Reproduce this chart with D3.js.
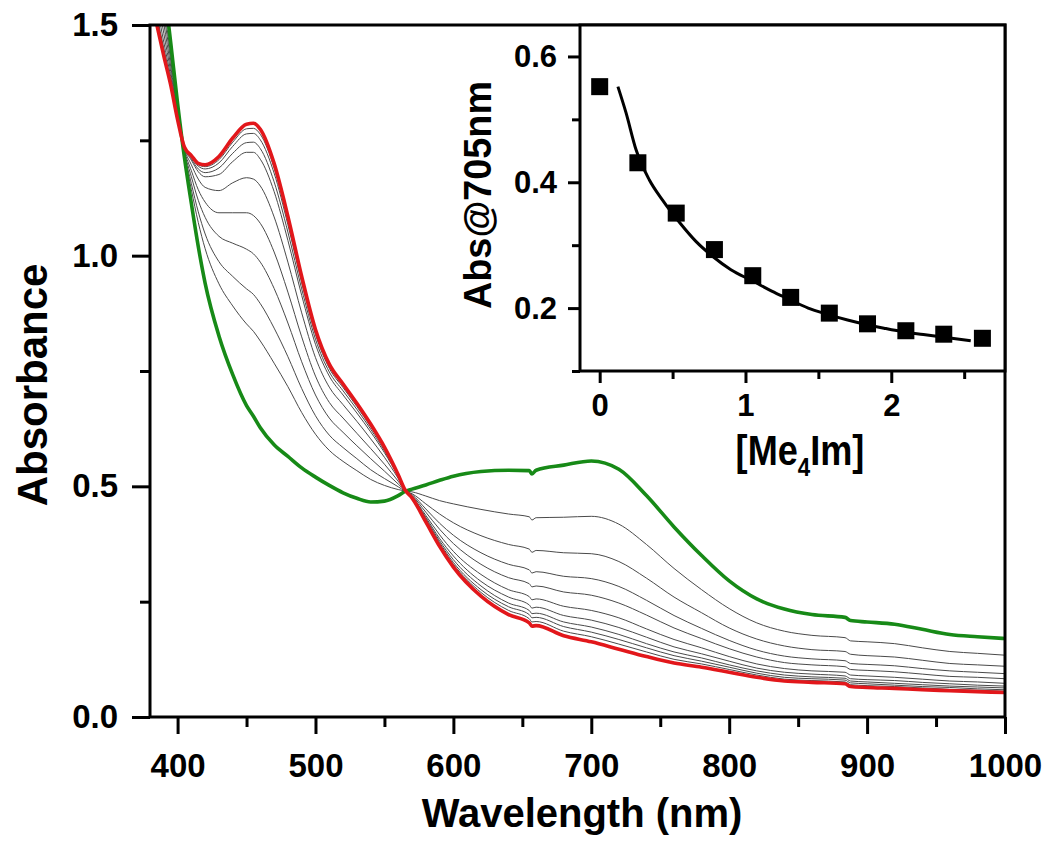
<!DOCTYPE html>
<html><head><meta charset="utf-8">
<script src="https://cdn.jsdelivr.net/npm/d3@7"></script>
<style>
body{margin:0;background:#fff}
svg{display:block}
text{font-family:Arial,"Liberation Sans",sans-serif;font-weight:bold;fill:#000}
</style>
</head><body>
<svg id="chart" width="1050" height="847"></svg>
<script>
// ---------- data ----------
const wavelengths = [385,390,395,400,405,410,415,420,430,440,450,455,460,470,480,490,500,510,520,530,540,550,560,565,570,580,590,600,620,640,655,657,660,680,700,720,740,760,780,800,820,840,860,884,888,900,920,940,960,980,1000];
const absGreen = [1.72,1.59,1.462,1.33,1.212,1.113,1.02,0.94,0.826,0.742,0.675,0.652,0.627,0.59,0.565,0.54,0.52,0.502,0.486,0.474,0.466,0.468,0.48,0.489,0.494,0.503,0.513,0.522,0.532,0.535,0.534,0.527,0.535,0.546,0.555,0.537,0.48,0.412,0.35,0.295,0.256,0.234,0.222,0.216,0.209,0.206,0.201,0.19,0.179,0.174,0.17];
const absRed = [1.50,1.433,1.37,1.295,1.235,1.217,1.20,1.197,1.215,1.255,1.285,1.287,1.274,1.20,1.085,0.955,0.84,0.765,0.722,0.68,0.635,0.585,0.525,0.492,0.475,0.423,0.37,0.325,0.262,0.222,0.204,0.197,0.198,0.176,0.163,0.147,0.131,0.117,0.108,0.097,0.086,0.078,0.075,0.072,0.066,0.064,0.062,0.059,0.057,0.055,0.053];
const absGrey1 = [1.656,1.545,1.435,1.320,1.219,1.143,1.072,1.015,0.939,0.891,0.852,0.836,0.815,0.767,0.716,0.660,0.613,0.578,0.554,0.534,0.515,0.502,0.493,0.490,0.488,0.479,0.469,0.462,0.450,0.440,0.434,0.427,0.432,0.433,0.435,0.418,0.374,0.322,0.276,0.235,0.204,0.186,0.177,0.172,0.165,0.163,0.159,0.150,0.142,0.138,0.134];
const absGrey2 = [1.629,1.525,1.424,1.316,1.222,1.156,1.095,1.047,0.987,0.955,0.928,0.916,0.896,0.843,0.781,0.712,0.653,0.611,0.584,0.560,0.536,0.517,0.499,0.490,0.484,0.462,0.440,0.421,0.393,0.374,0.364,0.357,0.361,0.356,0.354,0.337,0.301,0.260,0.226,0.193,0.169,0.154,0.146,0.142,0.136,0.133,0.130,0.123,0.116,0.113,0.110];
const absGrey3 = [1.598,1.503,1.411,1.311,1.225,1.171,1.120,1.083,1.042,1.027,1.014,1.004,0.986,0.929,0.854,0.770,0.698,0.648,0.617,0.588,0.560,0.533,0.505,0.491,0.482,0.451,0.420,0.394,0.356,0.331,0.319,0.312,0.315,0.305,0.300,0.283,0.253,0.220,0.192,0.166,0.145,0.132,0.126,0.122,0.116,0.114,0.111,0.105,0.100,0.097,0.094];
const absGrey4 = [1.569,1.482,1.399,1.306,1.228,1.184,1.143,1.116,1.093,1.093,1.093,1.087,1.070,1.008,0.921,0.824,0.739,0.682,0.648,0.615,0.582,0.548,0.511,0.491,0.480,0.444,0.407,0.376,0.331,0.302,0.289,0.282,0.284,0.271,0.264,0.247,0.221,0.193,0.170,0.148,0.130,0.118,0.113,0.109,0.103,0.101,0.098,0.093,0.088,0.086,0.083];
const absGrey5 = [1.542,1.463,1.388,1.302,1.231,1.197,1.166,1.148,1.141,1.158,1.169,1.166,1.151,1.084,0.986,0.876,0.779,0.715,0.677,0.641,0.603,0.563,0.517,0.491,0.478,0.437,0.395,0.359,0.309,0.276,0.261,0.254,0.256,0.240,0.231,0.215,0.191,0.168,0.150,0.131,0.115,0.105,0.100,0.097,0.091,0.089,0.086,0.082,0.078,0.076,0.073];
const absGrey6 = [1.522,1.449,1.379,1.299,1.233,1.207,1.182,1.171,1.176,1.204,1.224,1.224,1.209,1.139,1.033,0.914,0.808,0.739,0.698,0.659,0.618,0.573,0.521,0.492,0.477,0.433,0.387,0.349,0.294,0.260,0.243,0.236,0.238,0.220,0.210,0.194,0.173,0.152,0.137,0.121,0.106,0.097,0.093,0.089,0.083,0.081,0.079,0.075,0.072,0.069,0.067];
const absGrey7 = [1.514,1.443,1.376,1.297,1.234,1.210,1.188,1.180,1.190,1.222,1.245,1.246,1.232,1.160,1.051,0.928,0.819,0.748,0.707,0.667,0.624,0.577,0.522,0.492,0.477,0.430,0.382,0.341,0.284,0.247,0.231,0.224,0.225,0.206,0.195,0.179,0.159,0.141,0.128,0.113,0.100,0.091,0.087,0.084,0.078,0.076,0.073,0.070,0.067,0.065,0.063];
const absGrey8 = [1.508,1.439,1.373,1.296,1.234,1.213,1.194,1.188,1.201,1.237,1.264,1.265,1.251,1.179,1.067,0.941,0.829,0.756,0.714,0.673,0.629,0.581,0.523,0.492,0.476,0.427,0.378,0.335,0.276,0.239,0.222,0.215,0.216,0.196,0.184,0.168,0.150,0.133,0.121,0.108,0.095,0.086,0.083,0.080,0.074,0.072,0.069,0.066,0.064,0.061,0.059];
const absGrey9 = [1.504,1.436,1.372,1.296,1.235,1.215,1.197,1.193,1.208,1.246,1.275,1.276,1.263,1.190,1.076,0.948,0.835,0.761,0.718,0.677,0.632,0.583,0.524,0.492,0.476,0.425,0.374,0.331,0.270,0.231,0.213,0.206,0.207,0.186,0.174,0.158,0.141,0.125,0.115,0.103,0.091,0.082,0.079,0.076,0.070,0.068,0.066,0.063,0.060,0.058,0.056];

const xMajorTicks = [400,500,600,700,800,900,1000];
const xMinorTicks = [450,550,650,750,850,950];
const yMajorTicks = [0,0.5,1.0,1.5];
const yMinorTicks = [0.25,0.75,1.25];

// inset: Abs@705nm vs [Me4Im]
const insetConc = [0,0.262,0.525,0.787,1.05,1.31,1.575,1.837,2.1,2.36,2.625];
const insetAbs = [0.552,0.431,0.351,0.293,0.2515,0.217,0.192,0.175,0.164,0.1585,0.152];
const fitConc = [0.125,0.18,0.249,0.34,0.43,0.548,0.66,0.776,0.9,1.05,1.18,1.3,1.43,1.564,1.7,1.826,1.95,2.089,2.22,2.35,2.545];
const fitAbs = [0.552,0.511,0.452,0.404,0.372,0.336,0.306,0.282,0.261,0.243,0.227,0.214,0.2,0.19,0.181,0.174,0.168,0.162,0.158,0.154,0.148];
const insetXMajor = [0,1,2];
const insetXMinor = [0.5,1.5,2.5];
const insetYMajor = [0.2,0.4,0.6];
const insetYMinor = [0.1,0.3,0.5];

// ---------- layout ----------
const svg = d3.select("#chart");
const M = {left:150, right:1005, top:25, bottom:717};
const x = d3.scaleLinear().domain([380,1000]).range([M.left, M.right]);
const y = d3.scaleLinear().domain([0,1.5]).range([M.bottom, M.top]);

svg.append("defs").append("clipPath").attr("id","plotclip")
  .append("rect").attr("x",M.left).attr("y",M.top)
  .attr("width",M.right-M.left).attr("height",M.bottom-M.top);

const line = d3.line().curve(d3.curveMonotoneX)
  .x(d=>x(d[0])).y(d=>y(d[1]));
const toPts = arr => wavelengths.map((w,i)=>[w,arr[i]]).filter(d=>d[1]!=null);

const plot = svg.append("g").attr("clip-path","url(#plotclip)");
[absGrey1,absGrey2,absGrey3,absGrey4,absGrey5,absGrey6,absGrey7,absGrey8,absGrey9].forEach(a=>{
  plot.append("path").attr("d",line(toPts(a)))
    .attr("fill","none").attr("stroke","#4a4a4a").attr("stroke-width",1);
});
plot.append("path").attr("d",line(toPts(absGreen)))
  .attr("fill","none").attr("stroke","#178a17").attr("stroke-width",3.6).attr("stroke-linejoin","round");
plot.append("path").attr("d",line(toPts(absRed)))
  .attr("fill","none").attr("stroke","#e2171b").attr("stroke-width",3.6).attr("stroke-linejoin","round");

// axes
function styleAxis(g){
  g.select(".domain").remove();
  g.selectAll(".tick line").attr("stroke","#000").attr("stroke-width",3);
}
function styleLabels(sel, size){
  sel.attr("font-size",size).attr("font-family","Arial, 'Liberation Sans', sans-serif")
     .attr("font-weight","bold").attr("fill","#000");
}
svg.append("g").attr("transform",`translate(0,${M.bottom})`)
  .call(d3.axisBottom(x).tickValues(xMajorTicks).tickSize(17).tickPadding(20).tickFormat(d3.format("d")))
  .call(styleAxis)
  .selectAll("text").call(styleLabels,33);
svg.append("g").attr("transform",`translate(0,${M.bottom})`)
  .call(d3.axisBottom(x).tickValues(xMinorTicks).tickSize(10).tickFormat(""))
  .call(styleAxis);
svg.append("g").attr("transform",`translate(${M.left},0)`)
  .call(d3.axisLeft(y).tickValues(yMajorTicks).tickSize(18).tickPadding(14).tickFormat(d3.format(".1f")))
  .call(styleAxis)
  .selectAll("text").call(styleLabels,33);
svg.append("g").attr("transform",`translate(${M.left},0)`)
  .call(d3.axisLeft(y).tickValues(yMinorTicks).tickSize(10).tickFormat(""))
  .call(styleAxis);

svg.append("rect").attr("x",M.left).attr("y",M.top)
  .attr("width",M.right-M.left).attr("height",M.bottom-M.top)
  .attr("fill","none").attr("stroke","#000").attr("stroke-width",3);

svg.append("text").attr("x",582).attr("y",827).attr("text-anchor","middle")
  .attr("font-size",40).text("Wavelength (nm)");
svg.append("text").attr("transform","translate(47,385) rotate(-90)").attr("text-anchor","middle")
  .attr("font-size",42).text("Absorbance");

// ---------- inset ----------
const I = {left:580, right:1005, top:25, bottom:371};
const xi = d3.scaleLinear().domain([-0.135,2.78]).range([I.left, I.right]);
const yi = d3.scaleLinear().domain([0.1,0.65]).range([I.bottom, I.top]);
const inset = svg.append("g");
inset.append("rect").attr("x",I.left).attr("y",I.top)
  .attr("width",I.right-I.left).attr("height",I.bottom-I.top).attr("fill","#fff");

inset.append("path")
  .attr("d", d3.line().curve(d3.curveMonotoneX).x(d=>xi(d[0])).y(d=>yi(d[1]))(fitConc.map((c,i)=>[c,fitAbs[i]])))
  .attr("fill","none").attr("stroke","#000").attr("stroke-width",3);
const sq = 17;
inset.selectAll("rect.pt").data(insetConc.map((c,i)=>[c,insetAbs[i]])).join("rect")
  .attr("class","pt")
  .attr("x",d=>xi(d[0])-sq/2).attr("y",d=>yi(d[1])-sq/2)
  .attr("width",sq).attr("height",sq).attr("fill","#000");

inset.append("g").attr("transform",`translate(0,${I.bottom})`)
  .call(d3.axisBottom(xi).tickValues(insetXMajor).tickSize(12).tickPadding(11).tickFormat(d3.format("d")))
  .call(styleAxis)
  .selectAll("text").call(styleLabels,31);
inset.append("g").attr("transform",`translate(0,${I.bottom})`)
  .call(d3.axisBottom(xi).tickValues(insetXMinor).tickSize(8).tickFormat(""))
  .call(styleAxis);
inset.append("g").attr("transform",`translate(${I.left},0)`)
  .call(d3.axisLeft(yi).tickValues(insetYMajor).tickSize(12).tickPadding(11).tickFormat(d3.format(".1f")))
  .call(styleAxis)
  .selectAll("text").call(styleLabels,31);
inset.append("g").attr("transform",`translate(${I.left},0)`)
  .call(d3.axisLeft(yi).tickValues(insetYMinor).tickSize(8).tickFormat(""))
  .call(styleAxis);

inset.append("rect").attr("x",I.left).attr("y",I.top)
  .attr("width",I.right-I.left).attr("height",I.bottom-I.top)
  .attr("fill","none").attr("stroke","#000").attr("stroke-width",3);

const xt = inset.append("text").attr("transform","translate(800,465) scale(0.86,1)")
  .attr("text-anchor","middle").attr("font-size",42);
xt.append("tspan").text("[Me");
xt.append("tspan").attr("font-size",26).attr("dy",11).text("4");
xt.append("tspan").attr("dy",-11).text("Im]");

inset.append("text").attr("transform","translate(491,195) rotate(-90) scale(0.97,1)")
  .attr("text-anchor","middle").attr("font-size",39).text("Abs@705nm");
</script>
</body></html>
